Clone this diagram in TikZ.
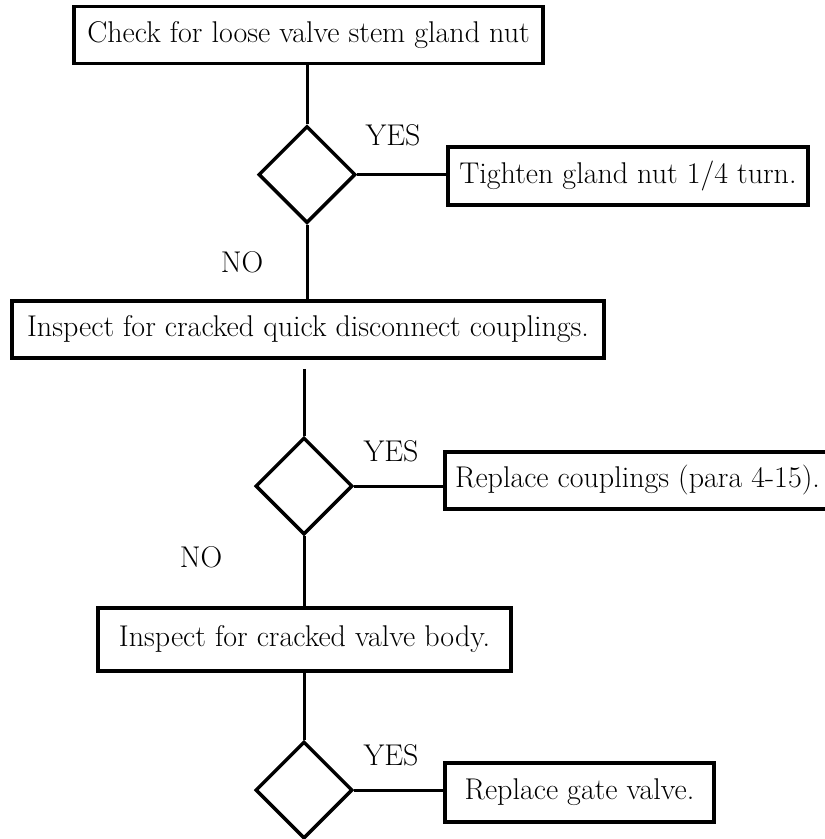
\documentclass[tikz,border=0pt]{standalone}
\usepackage{tikz}
\usetikzlibrary{shapes.geometric}

\begin{document}
\begin{tikzpicture}[x=1pt,y=-1pt,
    box/.style={draw,line width=3.5pt,minimum height=57pt,inner sep=0pt,
        font=\fontsize{30}{33}\selectfont},
    decision/.style={draw,diamond,line width=3.5pt,minimum size=97pt,inner sep=0pt},
    link/.style={line width=3pt},
    answer/.style={font=\fontsize{30}{33}\selectfont}]

% Frame
\clip (0,0) rectangle (825,839);

% Boxes
\node[box,minimum width=469pt] (check) at (308.5,35) {Check for loose valve stem gland nut};
\node[box,minimum width=360pt,minimum height=58pt] (tighten) at (628,176) {Tighten gland nut 1/4 turn.};
\node[box,minimum width=592pt] (inspectq) at (308,329.5) {Inspect for cracked quick disconnect couplings.};
\node[box,minimum width=385pt] (couplings) at (637.5,480.5) {Replace couplings (para 4-15).};
\node[box,minimum width=413pt,minimum height=63pt] (inspectb) at (304.5,639.5) {Inspect for cracked valve body.};
\node[box,minimum width=269pt,minimum height=59pt] (gate) at (579.5,792.5) {Replace gate valve.};

% Decisions
\node[decision] (d1) at (307,174.5) {};
\node[decision] (d2) at (304,486) {};
\node[decision] (d3) at (304,790) {};

% Lines
\draw[link] (d1.north |- check.south) -- (d1.north);
\draw[link] (d1.east) -- (d1.east -| tighten.west);
\draw[link] (d1.south) -- (d1.south |- inspectq.north);
\draw[link,shorten <=9pt] (d2.north |- inspectq.south) -- (d2.north);
\draw[link] (d2.east) -- (d2.east -| couplings.west);
\draw[link] (d2.south) -- (d2.south |- inspectb.north);
\draw[link] (d3.north |- inspectb.south) -- (d3.north);
\draw[link] (d3.east) -- (d3.east -| gate.west);

% Answers
\node[answer] (yes1) at (393,135) {YES};
\node[answer] (no1) at (242,262) {NO};
\node[answer] (yes2) at (391,451) {YES};
\node[answer] (no2) at (201,557.5) {NO};
\node[answer] (yes3) at (391,755) {YES};

\end{tikzpicture}
\end{document}
